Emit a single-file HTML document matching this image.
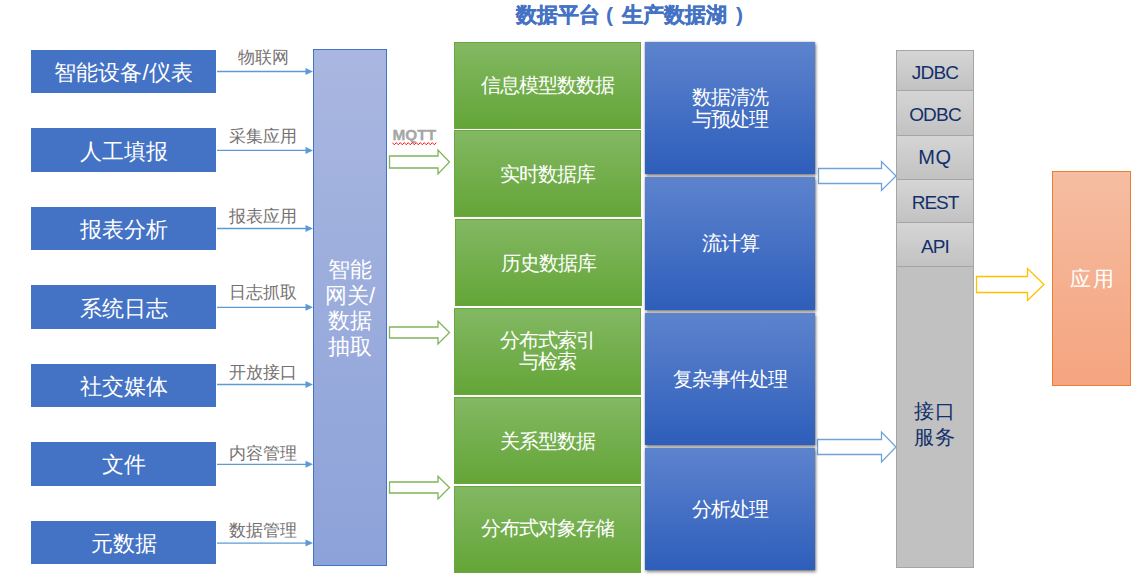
<!DOCTYPE html>
<html><head><meta charset="utf-8">
<style>
html,body{margin:0;padding:0;background:#fff;}
body{width:1141px;height:579px;position:relative;overflow:hidden;font-family:"Liberation Sans",sans-serif;}
.a{position:absolute;box-sizing:border-box;}
.src{background:#4472C4;color:#fff;font-size:22px;padding-top:3px;display:flex;align-items:center;justify-content:center;white-space:nowrap;}
.lbl{color:#767171;font-size:16.5px;white-space:nowrap;text-align:center;width:90px;line-height:20px;}
.gw{left:313px;top:49px;width:74px;height:517px;border:1.3px solid #4472C4;background:linear-gradient(#A9B7E0,#8DA2D9);color:#fff;font-size:22px;line-height:25.5px;display:flex;padding-top:1px;align-items:center;justify-content:center;text-align:center;}
.g{background:linear-gradient(#83B863,#64A537);border:1px solid #6AA73C;color:#fff;font-size:19.5px;letter-spacing:-1px;line-height:22px;display:flex;align-items:center;justify-content:center;text-align:center;white-space:nowrap;}
.b{background:linear-gradient(#5D83CD,#2E5EBB);color:#fff;font-size:19.5px;letter-spacing:-1px;line-height:22.5px;display:flex;align-items:center;justify-content:center;text-align:center;white-space:nowrap;box-shadow:1px 2px 3px rgba(0,0,0,0.45),0 0 2px rgba(0,0,0,0.3);}
.gr{background:linear-gradient(#D5D5D5,#C2C2C2);border:1px solid #A5A5A5;color:#12306B;font-size:19px;letter-spacing:-0.8px;display:flex;align-items:center;justify-content:center;padding-top:4px;}
</style></head><body>
<div class="a" style="left:0;top:0;width:1141px;text-align:center;"></div>
<div class="a" style="left:516px;top:1px;font-size:21px;font-weight:bold;color:#4472C4;-webkit-text-stroke:0.35px #4472C4;line-height:28px;white-space:nowrap;">数据平台</div>
<div class="a" style="left:606px;top:1px;font-size:21px;font-weight:bold;color:#4472C4;line-height:28px;white-space:nowrap;">(</div>
<div class="a" style="left:622px;top:1px;font-size:21px;font-weight:bold;color:#4472C4;-webkit-text-stroke:0.35px #4472C4;line-height:28px;white-space:nowrap;">生产数据湖</div>
<div class="a" style="left:736px;top:1px;font-size:21px;font-weight:bold;color:#4472C4;line-height:28px;white-space:nowrap;">)</div>

<!-- source boxes -->
<div class="a src" style="left:31px;top:50px;width:185px;height:43px;">智能设备/仪表</div>
<div class="a src" style="left:31px;top:128px;width:185px;height:44px;">人工填报</div>
<div class="a src" style="left:31px;top:207px;width:185px;height:43px;">报表分析</div>
<div class="a src" style="left:31px;top:285px;width:185px;height:44px;">系统日志</div>
<div class="a src" style="left:31px;top:364px;width:185px;height:43px;">社交媒体</div>
<div class="a src" style="left:31px;top:442px;width:185px;height:44px;padding-top:1px;">文件</div>
<div class="a src" style="left:31px;top:521px;width:185px;height:43px;">元数据</div>

<svg class="a" style="left:0;top:0" width="1141" height="579">
 <g stroke="#5B9BD5" stroke-width="1.3" fill="none">
  <line x1="217" y1="71.5" x2="307" y2="71.5"/>
  <line x1="217" y1="150.4" x2="307" y2="150.4"/>
  <line x1="217" y1="228.5" x2="307" y2="228.5"/>
  <line x1="217" y1="307.3" x2="307" y2="307.3"/>
  <line x1="217" y1="384.5" x2="307" y2="384.5"/>
  <line x1="217" y1="464.3" x2="307" y2="464.3"/>
  <line x1="217" y1="543.1" x2="307" y2="543.1"/>
 </g>
 <g fill="#5B9BD5">
  <path d="M305.5 68.0 L313 71.5 L305.5 75.0 Z"/>
  <path d="M305.5 146.9 L313 150.4 L305.5 153.9 Z"/>
  <path d="M305.5 225.0 L313 228.5 L305.5 232.0 Z"/>
  <path d="M305.5 303.8 L313 307.3 L305.5 310.8 Z"/>
  <path d="M305.5 381.0 L313 384.5 L305.5 388.0 Z"/>
  <path d="M305.5 460.8 L313 464.3 L305.5 467.8 Z"/>
  <path d="M305.5 539.6 L313 543.1 L305.5 546.6 Z"/>
 </g>
</svg>

<div class="a lbl" style="left:218px;top:47px;">物联网</div>
<div class="a lbl" style="left:218px;top:126.2px;">采集应用</div>
<div class="a lbl" style="left:218px;top:206.2px;">报表应用</div>
<div class="a lbl" style="left:218px;top:282px;">日志抓取</div>
<div class="a lbl" style="left:218px;top:361.6px;">开放接口</div>
<div class="a lbl" style="left:218px;top:443.4px;">内容管理</div>
<div class="a lbl" style="left:218px;top:519.8px;">数据管理</div>

<div class="a gw">智能<br>网关/<br>数据<br>抽取</div>

<!-- MQTT + green arrows -->
<div class="a" style="left:392.5px;top:126px;font-size:15.4px;font-weight:bold;color:#A6A6A6;-webkit-text-stroke:0.3px #A6A6A6;line-height:18px;">MQTT</div>
<svg class="a" style="left:0;top:0" width="1141" height="579">
 <path d="M392.3 142.6 L394.3 144.8 L396.3 142.6 L398.3 144.8 L400.3 142.6 L402.3 144.8 L404.3 142.6 L406.3 144.8 L408.3 142.6 L410.3 144.8 L412.3 142.6 L414.3 144.8 L416.3 142.6 L418.3 144.8 L420.3 142.6 L422.3 144.8 L424.3 142.6 L426.3 144.8 L428.3 142.6 L430.3 144.8 L432.3 142.6 L434.3 144.8 L436.3 142.6" stroke="#FF1A1A" stroke-width="1" fill="none"/>
 <g stroke="#7FB55A" stroke-width="1.3" fill="#fff">
  <path d="M389.5 156 H438 V150 L449.5 162 L438 174 V168 H389.5 Z"/>
  <path d="M389.5 327 H438 V321.2 L449.5 332.5 L438 344 V338 H389.5 Z"/>
  <path d="M389.5 482 H438 V476.2 L449.5 487.5 L438 499 V493 H389.5 Z"/>
 </g>
 <g stroke="#6FA3D8" stroke-width="1.3" fill="#fff">
  <path d="M818.5 168.5 H881.5 V161.5 L896 176 L881.5 190.5 V183.5 H818.5 Z"/>
  <path d="M817.5 439.5 H881.5 V432 L896 447 L881.5 462 V454.5 H817.5 Z"/>
 </g>
 <g stroke="#FFC000" stroke-width="1.3" fill="#fff">
  <path d="M976.5 276.5 H1027.5 V268.5 L1044 284.5 L1027.5 300.5 V292.5 H976.5 Z"/>
 </g>
</svg>

<!-- green column -->
<div class="a g" style="left:454px;top:42px;width:187px;height:87px;padding-bottom:2px;">信息模型数数据</div>
<div class="a g" style="left:454px;top:130px;width:187px;height:87px;">实时数据库</div>
<div class="a g" style="left:455px;top:219px;width:187px;height:87px;">历史数据库</div>
<div class="a g" style="left:454px;top:308px;width:187px;height:87px;padding-bottom:1px;line-height:21.5px;">分布式索引<br>与检索</div>
<div class="a g" style="left:454px;top:397px;width:187px;height:87px;">关系型数据</div>
<div class="a g" style="left:454px;top:486px;width:187px;height:87px;padding-bottom:4px;">分布式对象存储</div>

<!-- blue column -->
<div class="a b" style="left:645px;top:42px;width:170px;height:132px;">数据清洗<br>与预处理</div>
<div class="a b" style="left:645px;top:177px;width:170px;height:133px;">流计算</div>
<div class="a b" style="left:645px;top:313px;width:170px;height:132px;">复杂事件处理</div>
<div class="a b" style="left:645px;top:448px;width:170px;height:122px;">分析处理</div>

<!-- gray column -->
<div class="a gr" style="left:896px;top:50px;width:78px;height:41px;">JDBC</div>
<div class="a gr" style="left:896px;top:90px;width:78px;height:46px;">ODBC</div>
<div class="a gr" style="left:896px;top:135px;width:78px;height:45px;padding-top:0;font-size:20px;letter-spacing:0.6px;">MQ</div>
<div class="a gr" style="left:896px;top:179px;width:78px;height:44px;letter-spacing:-1px;">REST</div>
<div class="a gr" style="left:896px;top:222px;width:78px;height:45px;">API</div>
<div class="a gr" style="left:896px;top:266px;width:78px;height:302px;background:#C1C1C1;font-size:20px;line-height:26.5px;letter-spacing:1.5px;text-align:center;padding-top:14px;">接口<br>服务</div>

<!-- orange -->
<div class="a" style="left:1052px;top:171px;width:79px;height:215px;border:1.3px solid #ED7D31;background:linear-gradient(#F5BDA2,#F5A47F);color:#fff;font-size:20.5px;display:flex;align-items:center;justify-content:center;padding-left:2px;letter-spacing:2px;">应用</div>
</body></html>
